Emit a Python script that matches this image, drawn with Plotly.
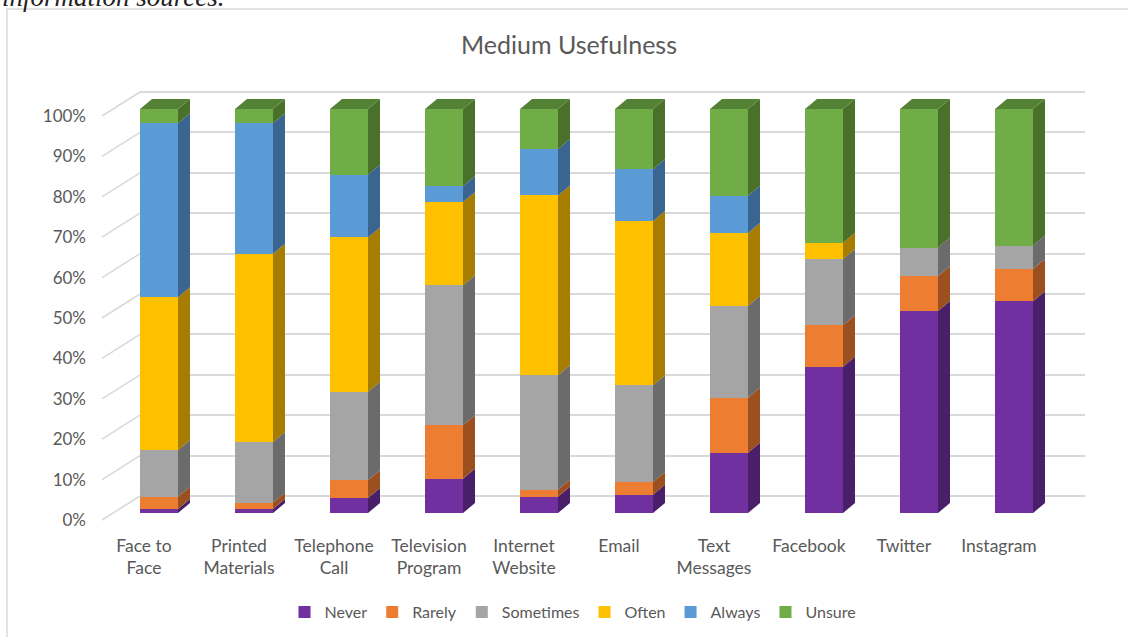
import plotly.graph_objects as go

# ---------------- data ----------------
categories = ["Face to Face", "Printed Materials", "Telephone Call", "Television Program",
              "Internet Website", "Email", "Text Messages", "Facebook", "Twitter", "Instagram"]
category_labels = ["Face to<br>Face", "Printed<br>Materials", "Telephone<br>Call",
                   "Television<br>Program", "Internet<br>Website", "Email",
                   "Text<br>Messages", "Facebook", "Twitter", "Instagram"]

never = [1.0, 1.0, 3.7, 8.5, 4.0, 4.5, 14.9, 36.2, 50.0, 52.4]
rarely = [3.0, 1.6, 4.4, 13.2, 1.8, 3.2, 13.6, 10.3, 8.6, 8.0]
sometimes = [11.6, 15.0, 21.9, 34.7, 28.3, 23.9, 22.8, 16.4, 7.1, 5.8]
often = [37.8, 46.6, 38.2, 20.6, 44.5, 40.7, 18.0, 4.0, 0.0, 0.0]
always = [43.1, 32.3, 15.5, 3.9, 11.5, 12.8, 9.2, 0.0, 0.0, 0.0]
unsure = [3.5, 3.5, 16.3, 19.1, 9.9, 14.9, 21.5, 33.1, 34.3, 33.8]

series_names = ["Never", "Rarely", "Sometimes", "Often", "Always", "Unsure"]
series_values = [never, rarely, sometimes, often, always, unsure]

y_tick_values = [0, 10, 20, 30, 40, 50, 60, 70, 80, 90, 100]
y_tick_labels = [f"{v}%" for v in y_tick_values]

# ---------------- style ----------------
front_colors = ["#7030a0", "#ed7d31", "#a5a5a5", "#ffc000", "#5b9bd5", "#70ad47"]
side_colors = ["#4a1f69", "#9c4f1f", "#6b6b6b", "#a67d00", "#3a6591", "#4a7129"]
top_colors = ["#5a2783", "#c06628", "#868686", "#cf9c00", "#4a7fb0", "#548235"]
TEXT = "#595959"
GRID = "#d9d9d9"
FONT = "Lato"

# geometry (pixels)
FIG_W, FIG_H = 1128, 637
PL, PR, PT, PB = 140, 1085, 85, 525
BAR0_PX, STEP_PX, BARW_PX = 159, 95, 38
FRONT0_PY, BACK0_PY, LABEL0_PY = 513, 496, 520
PX_PER_PCT = 4.04
LABEL_SHIFT_PX = -15
DEPTH_DX_PX, DEPTH_DY_PX = 12, 10
DIAG_X0_PX = 102

ddx = DEPTH_DX_PX / STEP_PX
ddy = DEPTH_DY_PX / PX_PER_PCT
half = BARW_PX / STEP_PX / 2


def yrange(zero_py):
    return [-(PB - zero_py) / PX_PER_PCT, (zero_py - PT) / PX_PER_PCT]


def xrange_(zero_px):
    return [(PL - zero_px) / STEP_PX, (PR - zero_px) / STEP_PX]


xs = list(range(len(categories)))

fig = go.Figure()

# front faces (native stacked bars)
for name, vals, col in zip(series_names, series_values, front_colors):
    fig.add_trace(go.Bar(x=xs, y=vals, name=name, width=2 * half,
                         marker=dict(color=col, line=dict(width=0)),
                         hoverinfo="skip"))

# side faces and top faces, derived from the stacked data
bases = [0.0] * len(xs)
tops_series = [None] * len(xs)
for k, (vals, scol) in enumerate(zip(series_values, side_colors)):
    px_, py_ = [], []
    for i, v in enumerate(vals):
        b = bases[i]
        t = b + v
        if v > 0:
            xr = i + half
            px_ += [xr, xr + ddx, xr + ddx, xr, None]
            py_ += [b, b + ddy, t + ddy, t, None]
            tops_series[i] = k
        bases[i] = t
    fig.add_trace(go.Scatter(x=px_, y=py_, mode="none", fill="toself", fillcolor=scol,
                             showlegend=False, hoverinfo="skip"))

for k in range(len(series_names)):
    px_, py_ = [], []
    for i in xs:
        if tops_series[i] == k:
            t = bases[i]
            px_ += [i - half, i + half, i + half + ddx, i - half + ddx, None]
            py_ += [t, t, t + ddy, t + ddy, None]
    if px_:
        fig.add_trace(go.Scatter(x=px_, y=py_, mode="none", fill="toself",
                                 fillcolor=top_colors[k], showlegend=False, hoverinfo="skip"))

# dummy traces to anchor the helper axes
fig.add_trace(go.Scatter(x=[0], y=[0], xaxis="x", yaxis="y2", mode="markers",
                         marker=dict(opacity=0), showlegend=False, hoverinfo="skip"))
fig.add_trace(go.Scatter(x=[0], y=[0], xaxis="x2", yaxis="y3", mode="markers",
                         marker=dict(opacity=0), showlegend=False, hoverinfo="skip"))

# diagonal side-wall lines from labels to the back wall
shapes = []
pw = PR - PL
ph = PB - PT
for v in y_tick_values:
    shapes.append(dict(type="line", xref="paper", yref="y2",
                       x0=(DIAG_X0_PX - PL) / pw, x1=0,
                       y0=v - (LABEL0_PY - BACK0_PY) / PX_PER_PCT, y1=v,
                       line=dict(color=GRID, width=1.5), layer="below"))
# outer frame
shapes.append(dict(type="rect", xref="paper", yref="paper",
                   x0=(7 - PL) / pw, x1=(FIG_W + 20 - PL) / pw,
                   y0=(PB - (FIG_H + 20)) / ph, y1=(PB - 9) / ph,
                   line=dict(color=GRID, width=1.5), fillcolor="rgba(0,0,0,0)", layer="below"))

fig.update_layout(
    width=FIG_W, height=FIG_H, autosize=False,
    margin=dict(l=PL, r=FIG_W - PR, t=PT, b=FIG_H - PB, pad=0),
    paper_bgcolor="white", plot_bgcolor="rgba(0,0,0,0)",
    barmode="stack",
    font=dict(family=FONT, color=TEXT, size=16),
    title=dict(text="Medium Usefulness", x=569 / FIG_W, y=1 - 45 / FIG_H,
               xanchor="center", yanchor="middle", xref="container", yref="container",
               font=dict(family=FONT, size=25, color=TEXT)),
    xaxis=dict(range=xrange_(BAR0_PX), visible=False, fixedrange=True),
    xaxis2=dict(range=xrange_(BAR0_PX + LABEL_SHIFT_PX), overlaying="x", side="bottom",
                tickmode="array", tickvals=xs, ticktext=category_labels,
                showgrid=False, zeroline=False, showline=False, ticks="",
                tickfont=dict(family=FONT, size=17.5, color=TEXT), ticklabelstandoff=8),
    yaxis=dict(range=yrange(FRONT0_PY), visible=False, fixedrange=True),
    yaxis2=dict(range=yrange(BACK0_PY), overlaying="y", tickmode="array",
                tickvals=y_tick_values, showticklabels=False, showgrid=True,
                gridcolor=GRID, gridwidth=1.5, zeroline=False, showline=False, ticks=""),
    yaxis3=dict(range=yrange(LABEL0_PY), overlaying="y", side="left", anchor="x2",
                tickmode="array", tickvals=y_tick_values, ticktext=y_tick_labels,
                showgrid=False, zeroline=False, showline=False, ticks="",
                tickfont=dict(family=FONT, size=17, color=TEXT), ticklabelstandoff=53),
    legend=dict(orientation="h", xref="container", yref="container",
                x=573 / FIG_W, y=1 - 612 / FIG_H, xanchor="center", yanchor="middle",
                traceorder="normal", font=dict(family=FONT, size=16, color=TEXT),
                itemwidth=30, bgcolor="rgba(0,0,0,0)"),
    shapes=shapes,
    annotations=[dict(text="<i>information sources.</i>", xref="paper", yref="paper",
                      x=(0 - PL) / pw, y=(PB + 3) / ph, xanchor="left", yanchor="middle",
                      showarrow=False,
                      font=dict(family="Liberation Serif", size=27, color="#222222"))],
)

fig.write_html("out.html")
